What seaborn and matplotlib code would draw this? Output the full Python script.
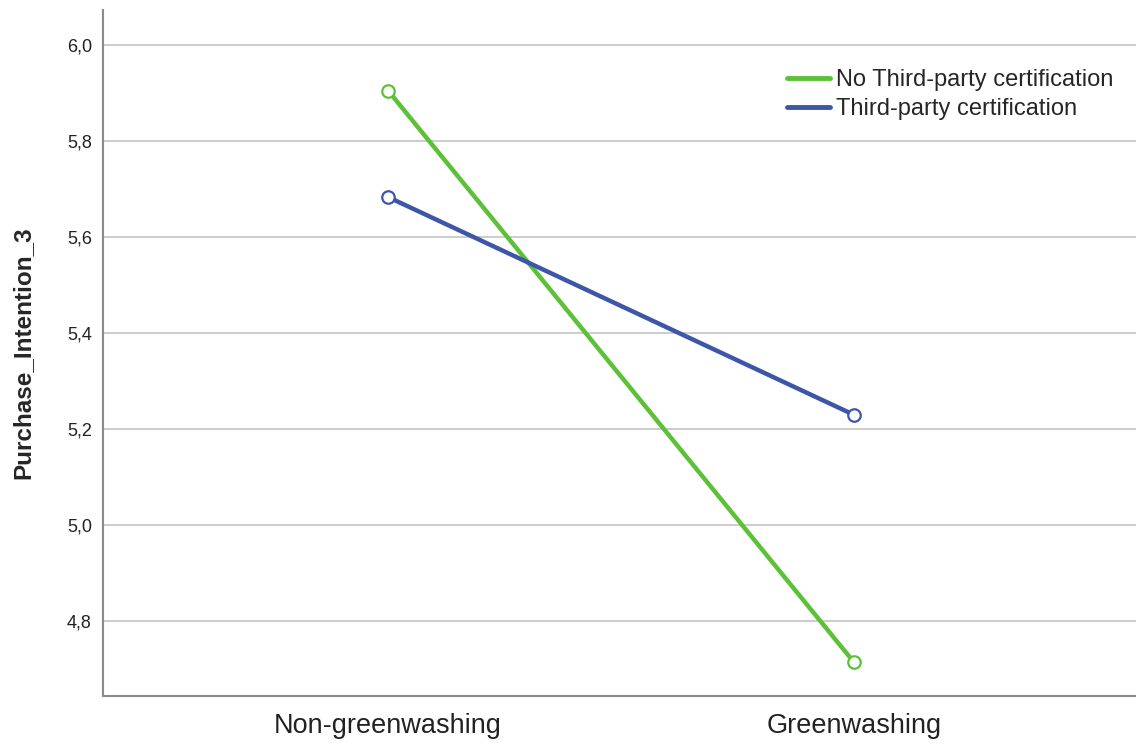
import pandas as pd
import numpy as np
import matplotlib.pyplot as plt
import matplotlib.ticker as mticker
from matplotlib.lines import Line2D
import seaborn as sns

# Estimated marginal means
conditions = ['Non-greenwashing', 'Greenwashing']
groups = ['No Third-party certification', 'Third-party certification']
no_cert = [5.905, 4.713]
cert = [5.683, 5.229]

df = pd.DataFrame({
    'Condition': conditions * 2,
    'Certification': [groups[0]] * 2 + [groups[1]] * 2,
    'Purchase_Intention_3': no_cert + cert,
})

colors = {groups[0]: '#5cc038', groups[1]: '#3e56a8'}

sns.set_style("white")
plt.rcParams['font.family'] = ['Liberation Sans', 'DejaVu Sans']

fig = plt.figure(figsize=(11.36, 7.45), dpi=100)
ax = fig.add_axes([0.0907, 0.0658, 0.9093, 0.9208])

sns.lineplot(
    data=df, x='Condition', y='Purchase_Intention_3', hue='Certification',
    palette=colors, marker='o', markersize=9, markerfacecolor='white',
    markeredgewidth=1.6, linewidth=3.2, sort=False, ax=ax, legend=False
)
# keep marker edges matching line colour
for line in ax.get_lines():
    line.set_markeredgecolor(line.get_color())

ax.set_xlim(-0.6116, 1.605)
ax.set_ylim(4.643, 6.073)
ax.set_yticks([4.8, 5.0, 5.2, 5.4, 5.6, 5.8, 6.0])
ax.yaxis.set_major_formatter(mticker.FuncFormatter(lambda v, p: f'{v:.1f}'.replace('.', ',')))
ax.yaxis.grid(True, color='#c8c8c8', linewidth=1.3)
ax.set_axisbelow(True)

for s in ['top', 'right']:
    ax.spines[s].set_visible(False)
for s in ['left', 'bottom']:
    ax.spines[s].set_color('#8a8a8a')
    ax.spines[s].set_linewidth(1.5)

ax.tick_params(axis='y', length=0, labelsize=13, pad=8, colors='#222222')
ax.tick_params(axis='x', length=0, labelsize=19.5, pad=12, colors='#222222')
ax.set_xlabel('')
ax.set_ylabel('Purchase_Intention_3', fontsize=17.5, fontweight='bold', labelpad=23)

handles = [Line2D([0], [0], color=colors[g], linewidth=3.5) for g in groups]
ax.legend(handles, groups, loc='upper right', bbox_to_anchor=(0.978, 0.914),
          frameon=False, fontsize=17, handlelength=1.8, handletextpad=0.25,
          labelspacing=0.3, borderaxespad=0, borderpad=0)

plt.savefig('out.png', dpi=100)
